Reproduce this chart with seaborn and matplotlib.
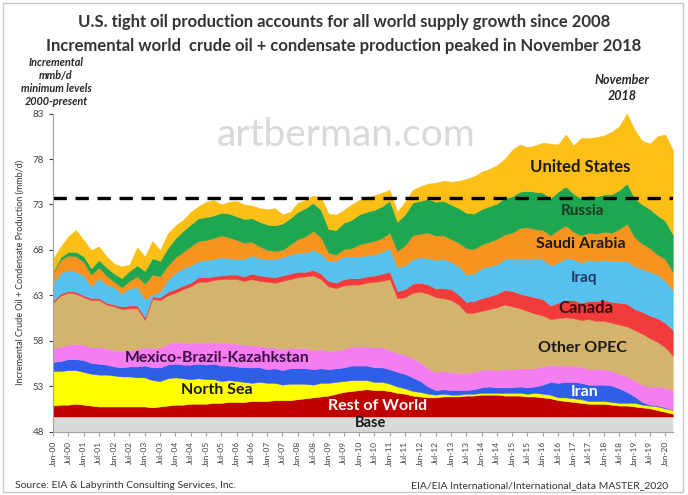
import pandas as pd
import numpy as np
import matplotlib
matplotlib.use('Agg')
import matplotlib.pyplot as plt
import seaborn as sns

# quarterly samples, Jan-2000 .. Apr-2020
quarters = pd.date_range('2000-01-01', '2020-04-01', freq='QS')

# minimum world level (grey band), mmb/d
base_level = 49.7

# layer thicknesses (incremental mmb/d), bottom to top
rest_of_world = [1.2, 1.3, 1.3, 1.4, 1.3, 1.2, 1.1, 1.1, 1.1, 1.1, 1.1, 1.1, 1.1, 1.0, 1.1, 1.2,
                 1.3, 1.3, 1.4, 1.4, 1.4, 1.5, 1.5, 1.6, 1.6, 1.6, 1.7, 1.7, 1.7, 1.8, 1.8, 1.8,
                 1.9, 2.0, 2.1, 2.2, 2.3, 2.5, 2.7, 2.8, 2.9, 3.0, 2.9, 2.9, 2.8, 2.6, 2.5, 2.3,
                 2.2, 2.1, 2.1, 2.2, 2.2, 2.2, 2.3, 2.3, 2.4, 2.4, 2.4, 2.3, 2.3, 2.3, 2.2, 2.2,
                 2.1, 2.0, 1.8, 1.7, 1.6, 1.5, 1.4, 1.4, 1.4, 1.3, 1.2, 1.2, 1.1, 1.0, 0.9, 0.7,
                 0.5, 0.3]
north_sea = [3.8, 3.7, 3.8, 3.7, 3.6, 3.5, 3.5, 3.5, 3.4, 3.3, 3.3, 3.2, 3.2, 3.0, 2.8, 3.0,
             3.0, 2.9, 2.7, 2.8, 2.7, 2.6, 2.4, 2.4, 2.3, 2.2, 2.0, 2.1, 2.0, 1.9, 1.7, 1.8,
             1.7, 1.6, 1.4, 1.5, 1.4, 1.3, 1.2, 1.2, 1.1, 1.0, 0.9, 0.9, 0.8, 0.7, 0.6, 0.5,
             0.5, 0.4, 0.3, 0.3, 0.2, 0.2, 0.2, 0.2, 0.2, 0.2, 0.2, 0.3, 0.3, 0.3, 0.3, 0.4,
             0.4, 0.4, 0.3, 0.4, 0.4, 0.4, 0.3, 0.3, 0.3, 0.3, 0.3, 0.3, 0.4, 0.3, 0.3, 0.4,
             0.4, 0.4]
iran = [1.0, 1.1, 1.2, 1.2, 1.3, 1.2, 1.2, 1.1, 1.0, 1.0, 1.1, 1.2, 1.3, 1.4, 1.5, 1.5,
        1.5, 1.5, 1.6, 1.6, 1.6, 1.7, 1.7, 1.6, 1.6, 1.6, 1.7, 1.6, 1.5, 1.6, 1.6, 1.7,
        1.7, 1.7, 1.7, 1.6, 1.5, 1.5, 1.5, 1.6, 1.6, 1.6, 1.6, 1.6, 1.6, 1.6, 1.6, 1.5,
        1.2, 0.8, 0.5, 0.5, 0.5, 0.5, 0.4, 0.5, 0.6, 0.7, 0.6, 0.6, 0.6, 0.7, 0.7, 0.7,
        1.0, 1.4, 1.6, 1.7, 1.8, 1.8, 1.8, 1.8, 1.8, 1.8, 1.6, 1.2, 0.7, 0.3, 0.1, 0.1,
        0.1, 0.0]
mex_bra_kaz = [1.5, 1.6, 1.6, 1.7, 1.7, 1.7, 1.8, 1.8, 1.8, 1.8, 1.8, 1.9, 2.0, 2.1, 2.2, 2.3,
               2.4, 2.4, 2.4, 2.4, 2.4, 2.4, 2.5, 2.5, 2.5, 2.5, 2.4, 2.4, 2.4, 2.3, 2.3, 2.3,
               2.2, 2.2, 2.1, 2.1, 2.0, 2.0, 2.0, 2.1, 2.1, 2.1, 2.2, 2.2, 2.1, 2.1, 2.1, 2.1,
               2.1, 2.0, 2.0, 2.0, 2.0, 1.9, 1.9, 1.9, 1.9, 1.9, 1.9, 2.0, 2.0, 2.0, 2.1, 2.0,
               2.0, 1.9, 1.9, 1.8, 1.8, 1.8, 1.7, 1.7, 1.7, 1.6, 1.6, 1.7, 1.8, 1.9, 2.0, 2.1,
               2.2, 2.2]
other_opec = [5.0, 5.6, 5.7, 5.5, 5.2, 5.2, 5.2, 4.8, 4.8, 4.6, 4.6, 4.5, 3.0, 5.4, 5.2, 5.3,
              5.4, 5.9, 6.2, 6.6, 6.7, 6.8, 7.0, 7.0, 7.1, 7.0, 7.3, 7.1, 7.2, 7.1, 7.5, 7.5,
              7.8, 7.9, 8.2, 7.7, 7.1, 6.8, 7.0, 6.8, 6.8, 7.0, 7.2, 7.3, 7.8, 6.0, 6.3, 7.2,
              7.7, 8.2, 8.2, 8.0, 7.9, 7.5, 6.6, 6.5, 6.5, 6.6, 6.9, 7.1, 6.9, 6.6, 6.3, 6.0,
              5.6, 5.0, 5.2, 5.3, 5.2, 5.1, 5.5, 5.3, 5.3, 5.3, 5.4, 5.5, 5.5, 5.6, 5.3, 4.9,
              4.4, 3.8]
canada = [0.2, 0.2, 0.2, 0.2, 0.2, 0.2, 0.2, 0.2, 0.2, 0.3, 0.3, 0.3, 0.3, 0.3, 0.3, 0.4,
          0.4, 0.4, 0.4, 0.5, 0.5, 0.4, 0.4, 0.5, 0.5, 0.5, 0.6, 0.6, 0.6, 0.6, 0.6, 0.6,
          0.6, 0.5, 0.6, 0.6, 0.6, 0.6, 0.7, 0.7, 0.7, 0.7, 0.7, 0.8, 0.8, 0.8, 0.9, 1.0,
          1.0, 1.0, 1.0, 1.1, 1.2, 1.1, 1.2, 1.3, 1.4, 1.4, 1.5, 1.6, 1.7, 1.6, 1.7, 1.8,
          1.8, 1.5, 1.7, 1.9, 2.0, 1.9, 2.0, 2.2, 2.3, 2.3, 2.4, 2.5, 2.3, 2.4, 2.5, 2.6,
          2.7, 2.8]
iraq = [1.9, 2.3, 2.3, 2.2, 2.2, 1.3, 2.2, 2.0, 1.9, 1.4, 1.9, 2.0, 2.0, 0.2, 0.6, 1.3,
        1.8, 1.9, 1.9, 1.8, 1.9, 1.9, 2.0, 1.8, 1.7, 1.9, 2.0, 1.9, 1.9, 2.0, 2.0, 2.1,
        2.1, 2.1, 2.2, 2.2, 2.2, 2.4, 2.5, 2.4, 2.4, 2.3, 2.3, 2.4, 2.6, 2.6, 2.6, 2.7,
        2.8, 2.9, 3.1, 3.2, 3.0, 3.1, 3.0, 3.0, 3.3, 3.3, 3.2, 3.4, 3.6, 3.9, 4.1, 4.3,
        4.4, 4.4, 4.4, 4.6, 4.5, 4.4, 4.5, 4.4, 4.4, 4.5, 4.6, 4.7, 4.7, 4.7, 4.8, 4.8,
        4.6, 4.4]
saudi_arabia = [1.2, 1.4, 1.6, 1.7, 1.5, 1.3, 1.2, 1.0, 0.6, 0.7, 0.8, 1.2, 1.7, 2.2, 1.7, 1.6,
                1.7, 1.8, 2.1, 2.2, 2.2, 2.3, 2.4, 2.3, 2.1, 1.8, 1.5, 1.3, 1.0, 0.9, 0.8, 1.1,
                1.5, 1.8, 2.1, 1.8, 0.9, 0.7, 0.8, 0.9, 1.3, 1.4, 1.5, 1.5, 1.7, 1.8, 2.2, 2.6,
                2.6, 2.8, 2.7, 2.6, 2.5, 2.6, 2.9, 2.7, 2.6, 2.7, 2.8, 2.7, 2.8, 3.3, 3.4, 3.2,
                3.2, 3.3, 3.6, 3.6, 3.0, 3.0, 3.0, 3.0, 3.1, 3.1, 3.5, 4.1, 3.2, 2.8, 2.6, 2.2,
                2.4, 2.0]
russia = [0.1, 0.3, 0.4, 0.5, 0.6, 0.7, 0.8, 0.9, 0.9, 1.0, 1.1, 1.2, 1.4, 1.8, 1.7, 1.9,
          2.1, 2.3, 2.4, 2.5, 2.5, 2.5, 2.5, 2.6, 2.6, 2.6, 2.6, 2.7, 2.8, 2.8, 2.9, 2.9,
          3.0, 3.1, 3.1, 3.0, 2.6, 2.7, 2.9, 3.1, 3.3, 3.4, 3.4, 3.5, 3.5, 3.2, 3.4, 3.6,
          3.6, 3.7, 3.7, 3.8, 3.8, 3.8, 3.9, 3.9, 3.9, 3.9, 3.9, 4.0, 4.0, 4.0, 4.0, 4.1,
          4.1, 4.1, 4.2, 4.3, 4.2, 4.1, 4.1, 4.1, 4.1, 4.2, 4.3, 4.4, 4.3, 4.3, 4.3, 4.3,
          4.2, 4.1]
united_states = [1.4, 1.2, 1.7, 2.4, 1.8, 2.0, 1.5, 1.2, 1.1, 1.3, 0.7, 2.0, 1.6, 1.9, 1.2, 1.6,
                 1.4, 1.2, 1.4, 1.3, 1.7, 1.7, 0.9, 1.3, 1.7, 1.6, 1.4, 1.5, 1.7, 1.9, 1.0, 0.7,
                 1.0, 0.9, 0.8, 1.4, 1.7, 1.7, 1.4, 1.7, 1.6, 1.6, 1.6, 1.5, 1.2, 1.1, 1.4, 1.4,
                 1.6, 1.7, 2.1, 2.2, 2.5, 3.0, 3.7, 4.1, 4.1, 4.1, 4.2, 4.3, 5.1, 5.2, 4.8, 5.1,
                 5.5, 6.0, 5.2, 5.7, 5.3, 6.6, 6.3, 6.5, 6.5, 6.9, 7.0, 7.7, 7.5, 7.0, 7.2, 8.7,
                 9.5, 9.3]

layer_colors = ['#d9d9d9', '#c00000', '#ffff00', '#2f5fe8', '#f47ef0', '#d4b46c',
                '#f23c3c', '#55c1ee', '#f7931e', '#1ea650', '#fbbf16']

peak_line = 73.7

sns.set_style('white')
plt.rcParams['font.family'] = ['Lato', 'DejaVu Sans']

fig = plt.figure(figsize=(6.88, 4.95), dpi=100)
ax = fig.add_axes([0.077, 0.1273, 0.901, 0.6434])

base = np.full(len(quarters), base_level)
ax.stackplot(quarters, base, rest_of_world, north_sea, iran, mex_bra_kaz, other_opec,
             canada, iraq, saudi_arabia, russia, united_states,
             colors=layer_colors, linewidth=0.3, edgecolor='face')

ax.axhline(peak_line, color='black', linestyle=(0, (4, 2.6)), linewidth=2.4)

ax.set_ylim(48, 83)
ax.set_xlim(pd.Timestamp('2000-01-01'), quarters[-1])
ax.set_yticks([48, 53, 58, 63, 68, 73, 78, 83])
xt = pd.date_range('2000-01-01', '2020-01-01', freq='6MS')
ax.set_xticks(xt)
ax.set_xticklabels([d.strftime('%b-%y') for d in xt], rotation=90, fontsize=6, color='#404040')
ax.tick_params(axis='y', labelsize=7, colors='#404040', length=3, direction='out', left=True)
ax.tick_params(axis='x', length=3, direction='out', bottom=True, color='#a0a0a0')
sns.despine(ax=ax, top=True, right=True)
ax.spines['left'].set_color('#a0a0a0')
ax.spines['bottom'].set_color('#a0a0a0')
ax.set_ylabel('Incremental Crude Oil + Condensate Production (mmb/d)', fontsize=6.5,
              color='#333333', labelpad=6)


def px(x, y):
    # figure pixel position -> figure fraction
    return x / 688, 1 - y / 495


# watermark
fig.text(*px(346, 135), 'artberman.com', ha='center', va='center', fontsize=28, color='#d9d9d9')


def label(x, y, s, color='#1a1a1a', size=11):
    fig.text(*px(x, y), s, ha='center', va='center', fontsize=size,
             fontweight='bold', color=color)


label(580, 167, 'United States', size=12)
label(582, 211, 'Russia', color='#173b22')
label(581, 244, 'Saudi Arabia', size=11.5)
label(584, 278, 'Iraq', color='#1f3864')
label(586, 308, 'Canada', color='#3a0d0d', size=12)
label(582, 348, 'Other OPEC', size=11.5)
label(585, 392, 'Iran', color='white', size=11.5)
label(217, 358, 'Mexico-Brazil-Kazahkstan', color='#3b0a45', size=11.3)
label(217, 390, 'North Sea', size=11.5)
label(378, 406, 'Rest of World', color='white', size=11.5)
label(371, 423, 'Base', size=10.5)

fig.text(*px(344, 22), 'U.S. tight oil production accounts for all world supply growth since 2008',
         ha='center', va='center', fontsize=12, fontweight='bold', color='#333333')
fig.text(*px(344, 46), 'Incremental world  crude oil + condensate production peaked in November 2018',
         ha='center', va='center', fontsize=12, fontweight='bold', color='#333333')

fig.text(*px(56, 82), 'Incremental\nmmb/d\nminimum levels\n2000-present',
         ha='center', va='center', fontsize=7.8, fontweight='bold', style='italic',
         linespacing=1.25, color='#262626')
fig.text(*px(622, 88), 'November\n2018', ha='center', va='center', fontsize=9,
         fontweight='bold', style='italic', linespacing=1.45, color='#262626')

fig.text(*px(15, 486), 'Source: EIA & Labyrinth Consulting Services, Inc.',
         ha='left', va='center', fontsize=7.5, color='#333333')
fig.text(*px(668, 486), 'EIA/EIA International/International_data MASTER_2020',
         ha='right', va='center', fontsize=7.5, color='#333333')

fig.patches.append(plt.Rectangle((3 / 688, 3 / 495), 680 / 688, 489 / 495, fill=False,
                                 edgecolor='#c8c8c8', linewidth=1, transform=fig.transFigure))

fig.savefig('out.png', dpi=100)
